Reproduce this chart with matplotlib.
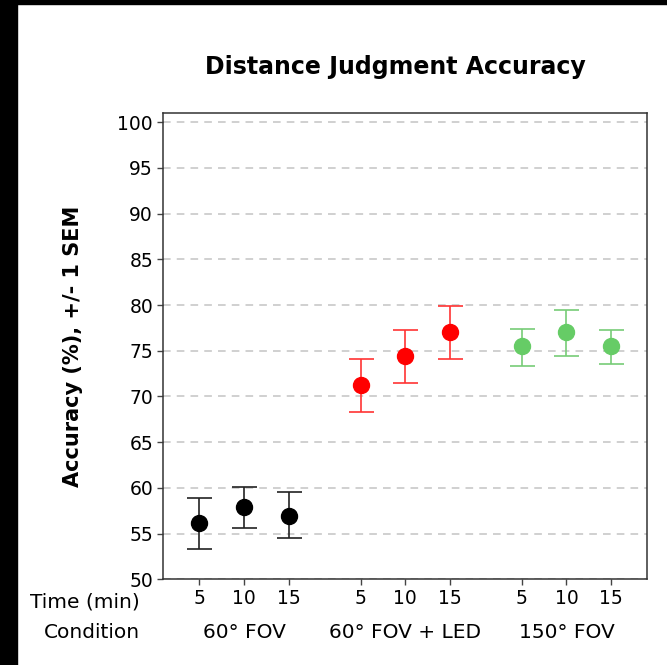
import matplotlib
matplotlib.use("Agg")
import matplotlib.pyplot as plt
from matplotlib.patches import Rectangle
import matplotlib.transforms as mtransforms

# data
conditions = ["60° FOV", "60° FOV + LED", "150° FOV"]
times = ["5", "10", "15"]
colors = ["#000000", "#ff0000", "#66cc66"]
err_colors = ["#222222", "#ff3333", "#77cc77"]

acc = [
    [56.2, 57.9, 56.9],
    [71.2, 74.4, 77.0],
    [75.5, 77.0, 75.5],
]
err_lo = [
    [2.9, 2.3, 2.4],
    [2.9, 2.9, 2.9],
    [2.2, 2.6, 2.0],
]
err_hi = [
    [2.7, 2.2, 2.6],
    [2.9, 2.9, 2.85],
    [1.9, 2.4, 1.8],
]

group_gap = 0.6

plt.rcParams['font.family'] = ['DejaVu Sans']

fig = plt.figure(figsize=(6.67, 6.65), dpi=100)
ax = fig.add_axes([0.244, 0.129, 0.726, 0.701])

xpos_all = []
for g in range(len(conditions)):
    xs = [1 + g * (3 + group_gap) + i for i in range(len(times))]
    xpos_all += xs
    ax.errorbar(xs, acc[g], yerr=[err_lo[g], err_hi[g]], fmt='none',
                ecolor=err_colors[g], elinewidth=1.2, capsize=9, capthick=1.2, zorder=3)
    ax.plot(xs, acc[g], 'o', color=colors[g], ms=11.5, zorder=4)

ax.set_xlim(0.18, 11.0)
ax.set_ylim(50, 101)
ax.set_yticks(range(50, 101, 5))
ax.set_xticks(xpos_all)
ax.set_xticklabels(times * len(conditions))
ax.tick_params(axis='both', labelsize=13.5, length=4, width=1, color='#444444', pad=3)
ax.tick_params(axis='x', pad=3)
ax.grid(axis='y', color='#c4c4c4', linestyle=(0, (5, 4)), linewidth=1.1)
ax.set_axisbelow(True)
for s in ax.spines.values():
    s.set_color('#333333')
    s.set_linewidth(1.1)

ax.set_title("Distance Judgment Accuracy", fontsize=17, fontweight='bold', pad=28, x=0.48)
ax.set_ylabel("Accuracy (%), +/- 1 SEM", fontsize=15, fontweight='bold')
ax.yaxis.set_label_coords(-0.165, 0.5)

trans = mtransforms.blended_transform_factory(ax.transData, fig.transFigure)
ftrans = fig.transFigure
fig.text(140 / 667, 1 - 602 / 665, "Time (min)", ha='right', va='center', fontsize=14.5)
fig.text(92 / 667, 1 - 632 / 665, "Condition", ha='center', va='center', fontsize=14.5)
for g, name in enumerate(conditions):
    xc = 1 + g * (3 + group_gap) + 1
    ax.text(xc, 1 - 632 / 665, name, transform=trans, ha='center', va='center', fontsize=14.5)

# black frame strips at the left and top of the picture
fig.patches.append(Rectangle((0, 0), 17 / 667, 1, transform=ftrans, color='black', zorder=10))
fig.patches.append(Rectangle((0, 1 - 4 / 665), 1, 4 / 665, transform=ftrans, color='black', zorder=10))

fig.savefig("out.png", dpi=100)
